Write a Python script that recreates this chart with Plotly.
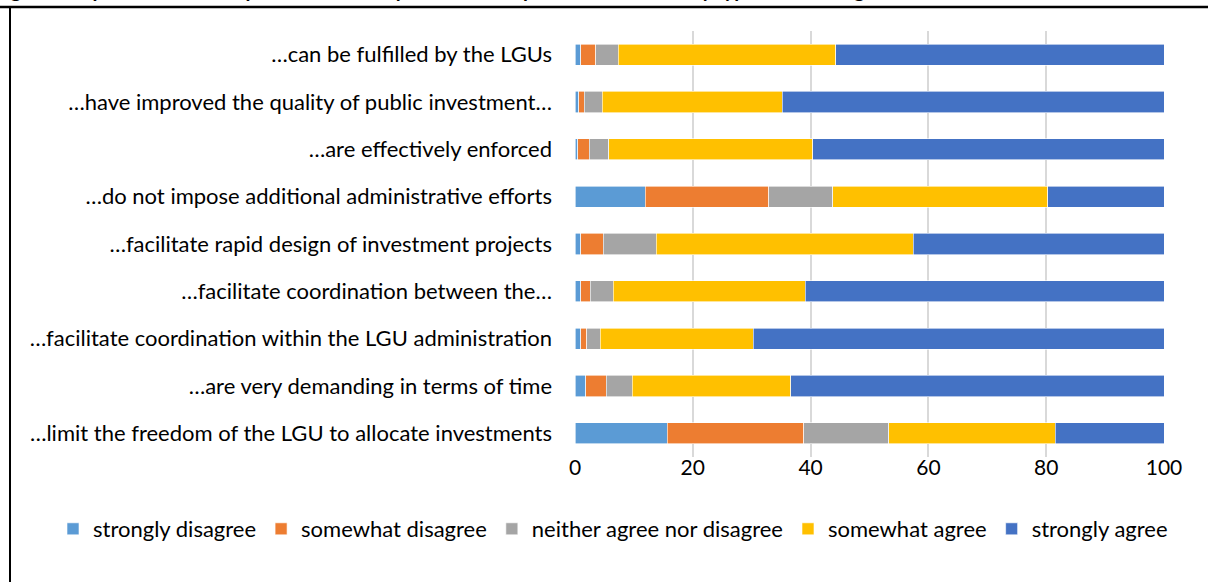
import plotly.graph_objects as go

categories = [
    "…can be fulfilled by the LGUs",
    "…have improved the quality of public investment…",
    "…are effectively enforced",
    "…do not impose additional administrative efforts",
    "…facilitate rapid design of investment projects",
    "…facilitate coordination between the…",
    "…facilitate coordination within the LGU administration",
    "…are very demanding in terms of time",
    "…limit the freedom of the LGU to allocate investments",
]

strongly_disagree = [1.0, 0.6, 0.5, 11.9, 1.0, 1.0, 1.0, 1.8, 15.7]
somewhat_disagree = [2.5, 1.0, 1.9, 21.0, 3.8, 1.6, 1.0, 3.5, 23.1]
neither = [3.8, 3.0, 3.3, 10.9, 9.0, 3.9, 2.3, 4.4, 14.5]
somewhat_agree = [37.0, 30.6, 34.7, 36.5, 43.6, 32.6, 26.0, 26.9, 28.2]
strongly_agree = [55.7, 64.8, 59.6, 19.7, 42.6, 60.9, 69.7, 63.4, 18.5]

series_names = ["strongly disagree", "somewhat disagree", "neither agree nor disagree",
                "somewhat agree", "strongly agree"]
series_values = [strongly_disagree, somewhat_disagree, neither, somewhat_agree, strongly_agree]
colors = ["#5B9BD5", "#ED7D31", "#A5A5A5", "#FFC000", "#4472C4"]

x_ticks = [0, 20, 40, 60, 80, 100]

title_text = "Figure 9: Opinions of the respondents on the procedures of public investment, by type of investing LGU"

FONT = "Lato"
FS = 22

fig = go.Figure()
for name, vals, col in zip(series_names, series_values, colors):
    fig.add_trace(go.Bar(
        y=categories, x=vals, name=name, orientation="h",
        marker=dict(color=col, line=dict(color="white", width=0.6)),
    ))

W, H = 1208, 582
L, R, T, B = 575, 44, 31, 125
pw, ph = W - L - R, H - T - B

def px(x):
    return (x - L) / pw

def py(y):
    return (H - B - y) / ph

fig.update_layout(
    width=W, height=H,
    barmode="stack", bargap=0.55,
    margin=dict(l=L, r=R, t=T, b=B, pad=0, autoexpand=False),
    paper_bgcolor="white", plot_bgcolor="white",
    font=dict(family=FONT, size=FS, color="#000000"),
    xaxis=dict(range=[0, 100], tickvals=x_ticks, showgrid=True, gridcolor="#D9D9D9",
               gridwidth=1.5, zeroline=False, showline=False, ticks="",
               tickfont=dict(size=21, color="#000000"), ticklabelstandoff=-4, fixedrange=True),
    yaxis=dict(autorange="reversed", showgrid=False, zeroline=False, showline=False,
               ticks="", tickfont=dict(size=FS, color="#000000"), ticklabelstandoff=22,
               fixedrange=True),
    legend=dict(orientation="h", xref="paper", yref="paper",
                x=px(53), xanchor="left",
                y=py(529), yanchor="middle", font=dict(size=FS, color="#000000"),
                traceorder="normal", itemwidth=30, tracegroupgap=0, bgcolor="rgba(0,0,0,0)"),
    showlegend=True,
)

fig.add_annotation(
    text="<b>" + title_text + "</b>", xref="paper", yref="paper",
    x=px(-8), y=py(3), xanchor="left", yanchor="bottom", showarrow=False,
    font=dict(family=FONT, size=20, color="#000000"),
)

# outer frame lines
fig.add_shape(type="line", xref="paper", yref="paper", x0=px(0), x1=px(1210),
              y0=py(7), y1=py(7), line=dict(color="black", width=2.5))
fig.add_shape(type="line", xref="paper", yref="paper", x0=px(10), x1=px(10),
              y0=py(7), y1=py(590), line=dict(color="black", width=2))

fig.write_html("out.html", config={"displayModeBar": False},
               post_script="document.body.style.margin='0';document.body.style.overflow='hidden';")
